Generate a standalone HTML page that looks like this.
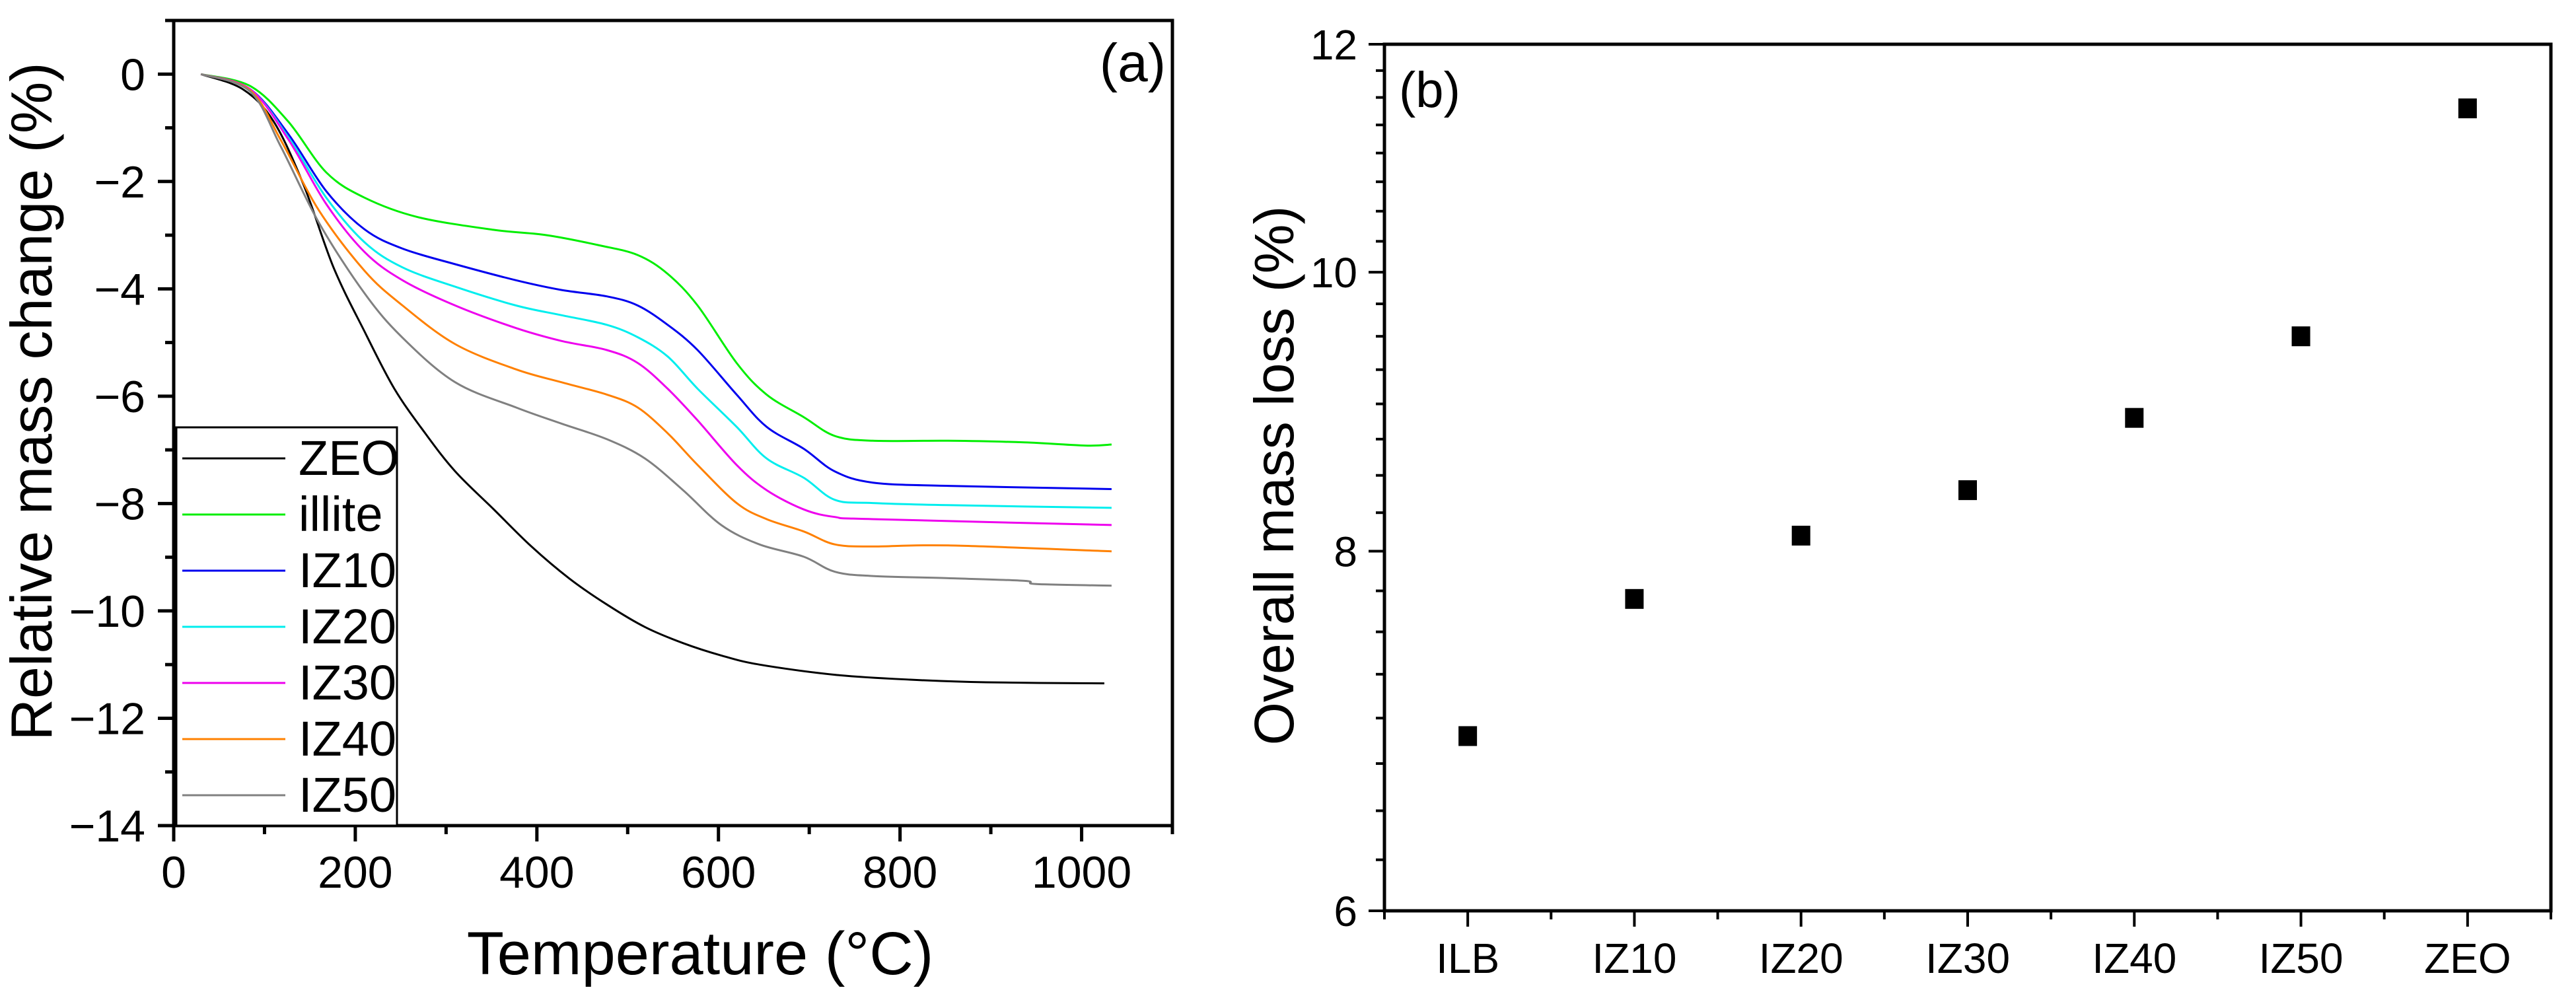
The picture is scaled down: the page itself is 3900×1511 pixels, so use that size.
<!DOCTYPE html>
<html><head><meta charset="utf-8"><style>
body{margin:0;background:#fff}
svg{display:block}
text{font-family:"Liberation Sans",Arial,sans-serif;fill:#000}
.nar{font-family:"Liberation Sans Narrow","Liberation Sans",sans-serif}
</style></head><body>
<svg id="fig" width="3900" height="1511" viewBox="0 0 3900 1511" xmlns="http://www.w3.org/2000/svg">
<g id="pa"></g>
<g id="pb"></g>
</svg>
<script>
// ---------- Panel (a) data ----------
const seriesNames = ["ZEO","illite","IZ10","IZ20","IZ30","IZ40","IZ50"];
const seriesColors = ["#000000","#00ee00","#0000ee","#00eeee","#ee00ee","#ff8000","#808080"];
const tZEO = [30,76,110,143,176,210,243,277,310,352,394,436,477,519,561,603,645,728,811,895,1025];
const vZEO = [0,-0.28,-0.88,-2.06,-3.6,-4.79,-5.86,-6.69,-7.4,-8.1,-8.8,-9.4,-9.88,-10.3,-10.6,-10.83,-11.0,-11.19,-11.28,-11.33,-11.35];
const tIllite = [30,84,126,168,210,268,352,411,469,511,544,577,620,653,694,728,770,853,937,1004,1033];
const vIllite = [0,-0.22,-0.88,-1.83,-2.3,-2.66,-2.9,-3.0,-3.19,-3.37,-3.72,-4.31,-5.38,-5.97,-6.39,-6.74,-6.83,-6.83,-6.86,-6.92,-6.9];
const tIZ10 = [30,84,126,168,210,252,310,377,427,477,511,544,577,620,653,694,728,770,853,1033];
const vIZ10 = [0,-0.28,-1.11,-2.18,-2.89,-3.25,-3.54,-3.84,-4.02,-4.14,-4.31,-4.67,-5.14,-5.97,-6.57,-6.98,-7.4,-7.61,-7.67,-7.73];
const tIZ20 = [30,84,126,168,210,252,310,377,427,477,511,544,577,620,653,694,728,770,853,1033];
const vIZ20 = [0,-0.28,-1.17,-2.3,-3.13,-3.6,-3.96,-4.31,-4.49,-4.67,-4.9,-5.26,-5.86,-6.57,-7.16,-7.52,-7.93,-7.99,-8.03,-8.08];
const tIZ30 = [30,84,126,168,210,252,310,377,427,477,511,544,577,620,653,694,728,770,1033];
const vIZ30 = [0,-0.28,-1.21,-2.42,-3.31,-3.84,-4.31,-4.73,-4.97,-5.14,-5.38,-5.86,-6.45,-7.28,-7.75,-8.11,-8.25,-8.29,-8.4];
const tIZ40 = [30,84,118,160,210,252,310,377,427,477,511,544,577,620,653,694,728,770,853,1033];
const vIZ40 = [0,-0.3,-1.23,-2.54,-3.66,-4.31,-5.03,-5.5,-5.74,-5.97,-6.21,-6.69,-7.28,-7.99,-8.29,-8.52,-8.76,-8.8,-8.78,-8.89];
const tIZ50 = [30,84,118,160,210,252,310,377,427,477,519,561,603,645,694,728,770,853,937,950,1033];
const vIZ50 = [0,-0.32,-1.35,-2.77,-4.08,-4.91,-5.74,-6.21,-6.51,-6.8,-7.16,-7.75,-8.4,-8.76,-8.99,-9.27,-9.35,-9.39,-9.44,-9.5,-9.53];
const seriesT = [tZEO,tIllite,tIZ10,tIZ20,tIZ30,tIZ40,tIZ50];
const seriesV = [vZEO,vIllite,vIZ10,vIZ20,vIZ30,vIZ40,vIZ50];
const aXTicks = [0,200,400,600,800,1000];
const aYTicks = [0,-2,-4,-6,-8,-10,-12,-14];

// ---------- Panel (b) data ----------
const bCategories = ["ILB","IZ10","IZ20","IZ30","IZ40","IZ50","ZEO"];
const bValues = [6.9,7.7,8.1,8.4,8.9,9.5,11.4];
const bYTicks = [6,8,10,12];

const NS="http://www.w3.org/2000/svg";
function mk(parent,tag,attrs,txt){const e=document.createElementNS(NS,tag);for(const k in attrs)e.setAttribute(k,attrs[k]);if(txt!==undefined)e.textContent=txt;parent.appendChild(e);return e;}
function smoothPath(p){
  let d="M"+p[0][0].toFixed(1)+","+p[0][1].toFixed(1);
  for(let i=0;i<p.length-1;i++){
    const p0=p[Math.max(0,i-1)],p1=p[i],p2=p[i+1],p3=p[Math.min(p.length-1,i+2)];
    const c1=[p1[0]+(p2[0]-p0[0])/6,p1[1]+(p2[1]-p0[1])/6];
    const c2=[p2[0]-(p3[0]-p1[0])/6,p2[1]-(p3[1]-p1[1])/6];
    d+="C"+c1.map(v=>v.toFixed(1)).join(",")+" "+c2.map(v=>v.toFixed(1)).join(",")+" "+p2[0].toFixed(1)+","+p2[1].toFixed(1);
  }
  return d;
}

// Panel a
const A={l:263,r:1775,t:31,b:1250,x0:0,x1:1100,y0:-14,y1:1};
const ax=v=>A.l+(v-A.x0)/(A.x1-A.x0)*(A.r-A.l);
const ay=v=>A.b-(v-A.y0)/(A.y1-A.y0)*(A.b-A.t);
const pa=document.getElementById('pa');
for(let i=0;i<seriesNames.length;i++){
  const pts=seriesT[i].map((t,j)=>[ax(t),ay(seriesV[i][j])]);
  const pl=mk(pa,'path',{d:smoothPath(pts),fill:'none',stroke:seriesColors[i],'stroke-width':3,'stroke-linejoin':'round'});
  
  
}
const fa=mk(pa,'rect',{x:A.l,y:A.t,width:A.r-A.l,height:A.b-A.t,fill:'none',stroke:'#000','stroke-width':5});


for(let v=0;v<=1100;v+=100){
  const major=v%200===0;
  const tk=mk(pa,'line',{x1:ax(v),x2:ax(v),y1:A.b,y2:A.b+(major?24:13),stroke:'#000','stroke-width':5});
  
  
}
aXTicks.forEach(v=>{
  const t=mk(pa,'text',{x:ax(v),y:1344,'font-size':68,'text-anchor':'middle'},String(v));
  
  
});
for(let v=-14;v<=1;v+=1){
  const major=v%2===0;
  const tk=mk(pa,'line',{x1:A.l,x2:A.l-(major?24:13),y1:ay(v),y2:ay(v),stroke:'#000','stroke-width':5});
  
  
}
aYTicks.forEach(v=>{
  const t=mk(pa,'text',{x:220,y:ay(v)+24,'font-size':68,'text-anchor':'end'},v<0?'\u2212'+(-v):String(v));
  
  
});
let t;
t=mk(pa,'text',{x:1060,y:1475,'font-size':92,'text-anchor':'middle'},'Temperature (°C)');


t=mk(pa,'text',{x:0,y:0,'font-size':88,'text-anchor':'middle',transform:'translate(78,608) rotate(-90)'},'Relative mass change (%)');


t=mk(pa,'text',{x:1765,y:123,'font-size':82,'text-anchor':'end'},'(a)');


const lg=mk(pa,'g',{});


const lb=mk(lg,'rect',{x:267,y:647,width:334,height:603,fill:'#fff',stroke:'#000','stroke-width':3});


seriesNames.forEach((n,i)=>{
  const y=694+i*85;
  const ln=mk(lg,'line',{x1:276,x2:432,y1:y,y2:y,stroke:seriesColors[i],'stroke-width':3});
  
  
  const tx=mk(lg,'text',{x:452,y:y+25,'font-size':74},n);
  
  
});

// Panel b
const B={l:2096,r:3862,t:67,b:1379,lo:6,hi:12};
const bx=i=>B.l+(i+0.5)/bCategories.length*(B.r-B.l);
const by=v=>B.b-Math.log(v/B.lo)/Math.log(B.hi/B.lo)*(B.b-B.t);
const pb=document.getElementById('pb');
const fb=mk(pb,'rect',{x:B.l,y:B.t,width:B.r-B.l,height:B.b-B.t,fill:'none',stroke:'#000','stroke-width':5});


for(let v=6;v<=12.001;v+=0.25){
  const major=Math.abs(v-Math.round(v/2)*2)<1e-6;
  const tk=mk(pb,'line',{x1:B.l,x2:B.l-(major?24:13),y1:by(v),y2:by(v),stroke:'#000','stroke-width':4});
  
  
}
bYTicks.forEach(v=>{
  const tx=mk(pb,'text',{x:2055,y:by(v)+23,'font-size':64,'text-anchor':'end','class':'nar'},String(v));
  
  
});
for(let k=0;k<=bCategories.length*2;k++){
  const x=B.l+k/(bCategories.length*2)*(B.r-B.l);
  const major=k%2===1;
  const tk=mk(pb,'line',{x1:x,x2:x,y1:B.b,y2:B.b+(major?24:13),stroke:'#000','stroke-width':4});
  
  
}
bCategories.forEach((c,i)=>{
  const tx=mk(pb,'text',{x:bx(i),y:1473,'font-size':64,'text-anchor':'middle','class':'nar'},c);
  
  
  const m=mk(pb,'rect',{x:bx(i)-14,y:by(bValues[i])-15,width:28,height:30,fill:'#000'});
  
  
});
t=mk(pb,'text',{x:0,y:0,'font-size':84,'text-anchor':'middle',transform:'translate(1958,720) rotate(-90)'},'Overall mass loss (%)');


t=mk(pb,'text',{x:2118,y:162,'font-size':76,'class':'nar'},'(b)');


</script>
</body></html>
